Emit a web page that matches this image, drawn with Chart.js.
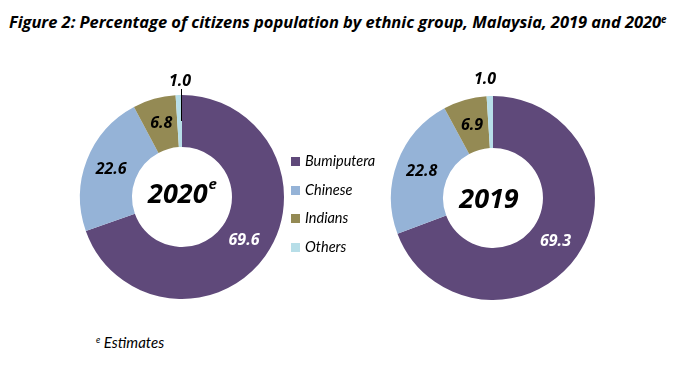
<!DOCTYPE html>
<html>
<head>
<meta charset="utf-8">
<script src="https://cdn.jsdelivr.net/npm/chart.js@4.4.0/dist/chart.umd.min.js"></script>
<style>
  body { margin: 0; background: #fff; font-family: Lato, "Noto Sans", sans-serif; }
  #wrap { position: relative; width: 676px; height: 379px; overflow: hidden; }
  #title { position: absolute; left: 9px; top: 10px; font-family: "Open Sans", sans-serif; font-size: 16.5px; font-weight: bold; font-style: italic; color: #000; white-space: nowrap; letter-spacing: -0.05px; }
  sup { font-size: 60%; vertical-align: 0.55em; line-height: 0; }
  canvas { position: absolute; }
  #legend { position: absolute; left: 291px; top: 152px; font-style: italic; font-size: 14.5px; color: #000; }
  #legend div { height: 28.5px; display: flex; align-items: flex-start; }
  #legend span.sq { width: 9px; height: 9px; margin-right: 5px; margin-top: 5px; }
  #note { position: absolute; left: 96px; top: 333px; font-size: 15px; font-style: italic; }
</style>
</head>
<body>
<div id="wrap">
  <div id="title">Figure 2: Percentage of citizens population by ethnic group, Malaysia, 2019 and 2020<sup>e</sup></div>
  <canvas id="c2020" width="260" height="260" style="left:52px;top:67px"></canvas>
  <canvas id="c2019" width="260" height="260" style="left:363px;top:68px"></canvas>
  <div id="legend"></div>
  <div id="note"><sup>e</sup> Estimates</div>
</div>
<script>
const groups = ["Bumiputera", "Chinese", "Indians", "Others"];
const values2020 = [69.6, 22.6, 6.8, 1.0];
const values2019 = [69.3, 22.8, 6.9, 1.0];
const colors = ["#5f497a", "#95b3d7", "#948a54", "#b7dee8"];
const labelColors = ["#fff", "#000", "#000", "#000"];
const boldFont = "'Open Sans', sans-serif";

// legend
const legend = document.getElementById("legend");
groups.forEach((g, i) => {
  const row = document.createElement("div");
  row.innerHTML = `<span class="sq" style="background:${colors[i]}"></span>${g}`;
  legend.appendChild(row);
});

// value labels + centre text
const donutText = {
  id: "donutText",
  afterDatasetsDraw(chart, args, opts) {
    const ctx = chart.ctx;
    const meta = chart.getDatasetMeta(0);
    const data = chart.data.datasets[0].data;
    ctx.save();
    ctx.textAlign = "center";
    ctx.textBaseline = "middle";
    meta.data.forEach((arc, i) => {
      let x, y;
      if (i === data.length - 1) {
        // small slice: label sits above the ring
        x = arc.x + (opts.leader ? -2 : -8);
        y = arc.y - arc.outerRadius - (opts.leader ? 14 : 17);
      } else {
        const p = arc.tooltipPosition();
        x = p.x; y = p.y;
      }
      ctx.font = "bold italic 16px " + boldFont;
      ctx.fillStyle = labelColors[i];
      ctx.fillText(data[i].toFixed(1), x, y);
      if (i === data.length - 1 && opts.leader) {
        ctx.strokeStyle = "#000";
        ctx.lineWidth = 1;
        ctx.beginPath();
        ctx.moveTo(x + 1.5, y + 8);
        ctx.lineTo(x + 1.5, y + 40);
        ctx.stroke();
      }
    });
    const a = meta.data[0];
    ctx.fillStyle = "#000";
    const big = "bold italic 27px " + boldFont;
    const small = "bold italic 15px " + boldFont;
    ctx.font = big;
    if (opts.sup) {
      const w = ctx.measureText(opts.text).width;
      ctx.font = small;
      const ws = ctx.measureText(opts.sup).width;
      const x0 = a.x - (w + ws) / 2;
      ctx.textAlign = "left";
      ctx.font = big;
      ctx.fillText(opts.text, x0, a.y - 2);
      ctx.font = small;
      ctx.fillText(opts.sup, x0 + w + 1, a.y - 12);
    } else {
      ctx.fillText(opts.text, a.x - 4, a.y + 2);
    }
    ctx.restore();
  }
};

function makeDonut(id, values, text, sup, leader) {
  return new Chart(document.getElementById(id), {
    type: "doughnut",
    data: {
      labels: groups,
      datasets: [{ data: values, backgroundColor: colors, borderWidth: 0 }]
    },
    options: {
      responsive: false,
      animation: false,
      cutout: "49%",
      layout: { padding: 28 },
      plugins: {
        legend: { display: false },
        tooltip: { enabled: false },
        donutText: { text, sup, leader }
      }
    },
    plugins: [donutText]
  });
}

makeDonut("c2020", values2020, "2020", "e", true);
makeDonut("c2019", values2019, "2019", "", false);
</script>
</body>
</html>
